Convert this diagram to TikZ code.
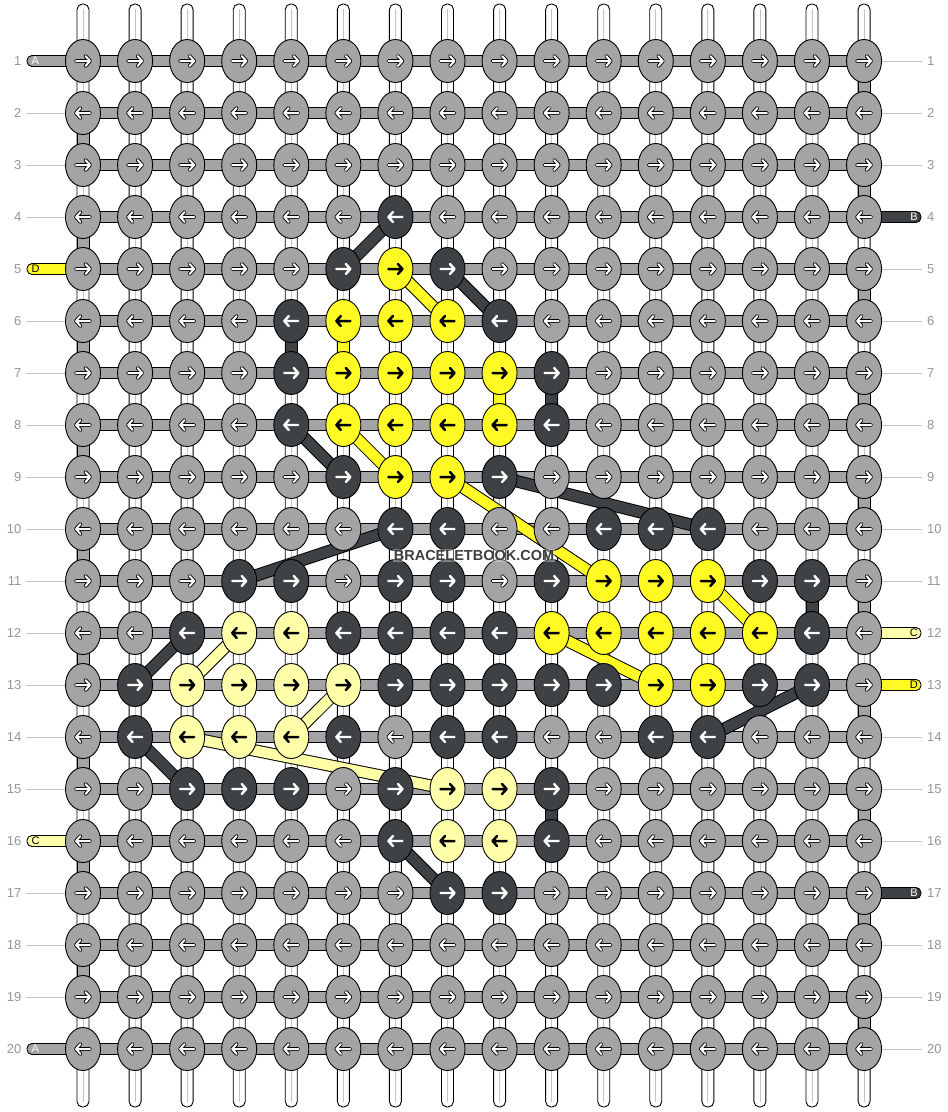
\documentclass[tikz,border=0pt]{standalone}
\usepackage{fontspec}
\setmainfont{Liberation Sans}
\usetikzlibrary{shapes.geometric}
\definecolor{kG}{RGB}{164,163,166}
\definecolor{kD}{RGB}{63,66,69}
\definecolor{kY}{RGB}{255,250,35}
\definecolor{kL}{RGB}{255,255,170}
\definecolor{lblgray}{RGB}{150,150,150}
\definecolor{lineg}{RGB}{195,195,195}
\definecolor{wm}{RGB}{62,62,62}
\makeatletter
\newcommand\setknots[3]{\@for\kx:=#2\do{\expandafter\xdef\csname kc-\kx-#1\endcsname{#3}}}
\makeatother
\setknots{4}{7}{D}
\setknots{5}{6,8}{D}\setknots{5}{7}{Y}
\setknots{6}{5,9}{D}\setknots{6}{6,7,8}{Y}
\setknots{7}{5,10}{D}\setknots{7}{6,7,8,9}{Y}
\setknots{8}{5,10}{D}\setknots{8}{6,7,8,9}{Y}
\setknots{9}{6,9}{D}\setknots{9}{7,8}{Y}
\setknots{10}{7,8,11,12,13}{D}
\setknots{11}{4,5,7,8,10,14,15}{D}\setknots{11}{11,12,13}{Y}
\setknots{12}{3,6,7,8,9,15}{D}\setknots{12}{4,5}{L}\setknots{12}{10,11,12,13,14}{Y}
\setknots{13}{2,7,8,9,10,11,14,15}{D}\setknots{13}{3,4,5,6}{L}\setknots{13}{12,13}{Y}
\setknots{14}{2,6,8,9,12,13}{D}\setknots{14}{3,4,5}{L}
\setknots{15}{3,4,5,7,10}{D}\setknots{15}{8,9}{L}
\setknots{16}{7,10}{D}\setknots{16}{8,9}{L}
\setknots{17}{8,9}{D}
\tikzset{
  knot/.style={shape=ellipse,draw=black,line width=0.9pt,minimum width=35pt,minimum height=43pt,inner sep=0pt},
  strand/.style={draw=black,fill=white,line width=0.9pt,rounded corners=5.5pt},
  hband/.style={draw=black,fill=kG,line width=0.9pt},
  vband/.style={draw=black,line width=0.9pt},
  arrO/.style={draw=black,line width=3.8pt,line cap=round,line join=round},
  arrI/.style={draw=white,line width=2pt,line cap=round,line join=round},
  arrW/.style={draw=white,line width=2.4pt,line cap=round,line join=round},
  arrB/.style={draw=black,line width=2.5pt,line cap=round,line join=round},
  lbl/.style={text=lblgray,inner sep=0pt,font=\fontsize{13}{13}\selectfont},
  stubtxt/.style={inner sep=0pt,font=\fontsize{11}{11}\selectfont},
  rowline/.style={draw=lineg,line width=1pt}
}
\newcommand\vcon[4]{\draw[vband,fill=#4] ([xshift=-6pt]p-#1-#2) rectangle ([xshift=6pt]p-#1-#3);}
\newcommand\diag[5]{\draw[line width=12.5pt,black] (p-#1-#2)--(p-#3-#4);\draw[line width=10.5pt,#5] (p-#1-#2)--(p-#3-#4);}
\newcommand\stubL[4]{%
  \draw[vband,fill=#2,rounded corners=5pt] (27,{61+(#1-1)*52-5.5}) rectangle (80,{61+(#1-1)*52+5.5});
  \node[stubtxt,text=#4,anchor=west] (sl-#1) at (31.5,{61+(#1-1)*52}) {#3};}
\newcommand\stubR[4]{%
  \draw[vband,fill=#2,rounded corners=5pt] (850,{61+(#1-1)*52-5.5}) rectangle (921,{61+(#1-1)*52+5.5});
  \node[stubtxt,text=#4,anchor=east] (sr-#1) at (918,{61+(#1-1)*52}) {#3};}
\begin{document}
\begin{tikzpicture}[x=1pt,y=-1pt]
\useasboundingbox (0,0) rectangle (948,1112);
\fill[white] (0,0) rectangle (948,1112);
% grid coordinates
\foreach \rw in {1,...,20}{\foreach \cl in {1,...,16}{
  \coordinate (p-\cl-\rw) at ({83+(\cl-1)*52.07},{61+(\rw-1)*52});}}
% row labels
\foreach \rw in {1,...,20}{
  \pgfmathsetmacro\yy{61+(\rw-1)*52}
  \node[lbl,anchor=east] (ln-\rw) at (21.5,\yy) {\rw};
  \node[lbl,anchor=west] (rn-\rw) at (927,\yy) {\rw};}
\foreach \rw in {2,3,4,6,7,8,9,10,11,12,13,14,15,17,18,19}{
  \pgfmathsetmacro\yy{61+(\rw-1)*52}
  \draw[rowline] (26,\yy)--(66,\yy);}
\foreach \rw in {1,2,3,5,6,7,8,9,10,11,14,15,16,18,19,20}{
  \pgfmathsetmacro\yy{61+(\rw-1)*52}
  \draw[rowline] (882,\yy)--(922,\yy);}
% vertical strands
\foreach \cl in {1,...,16}{
  \pgfmathsetmacro\xx{83+(\cl-1)*52.07}
  \draw[strand] ({\xx-6},4) rectangle ({\xx+6},1107);
  \draw[lineg,line width=0.8pt] (\xx,9)--(\xx,1102);}
% stubs
\stubL{1}{kG}{A}{white}
\stubL{5}{kY}{D}{black}
\stubL{16}{kL}{C}{black}
\stubL{20}{kG}{A}{white}
\stubR{4}{kD}{B}{white}
\stubR{12}{kL}{C}{black}
\stubR{13}{kY}{D}{black}
\stubR{17}{kD}{B}{white}
% horizontal bands
\foreach \rw in {1,...,20}{
  \pgfmathsetmacro\yy{61+(\rw-1)*52}
  \draw[hband] (83,{\yy-5.5}) rectangle (864,{\yy+5.5});}
% edge verticals
\foreach \rw in {2,4,...,18}{\pgfmathtruncatemacro\rn{\rw+1}\vcon{1}{\rw}{\rn}{kG}}
\foreach \rw in {1,3,...,19}{\pgfmathtruncatemacro\rn{\rw+1}\vcon{16}{\rw}{\rn}{kG}}
% coloured verticals
\vcon{5}{6}{7}{kD}
\vcon{6}{6}{7}{kY}
\vcon{9}{7}{8}{kY}
\vcon{10}{7}{8}{kD}
\vcon{15}{11}{12}{kD}
\vcon{10}{15}{16}{kD}
% diagonals
\diag{7}{4}{6}{5}{kD}
\diag{8}{5}{9}{6}{kD}
\diag{5}{8}{6}{9}{kD}
\diag{9}{9}{13}{10}{kD}
\diag{7}{10}{4}{11}{kD}
\diag{3}{12}{2}{13}{kD}
\diag{2}{14}{3}{15}{kD}
\diag{7}{16}{8}{17}{kD}
\diag{13}{14}{15}{13}{kD}
\diag{7}{5}{8}{6}{kY}
\diag{6}{8}{7}{9}{kY}
\diag{8}{9}{11}{11}{kY}
\diag{13}{11}{14}{12}{kY}
\diag{10}{12}{12}{13}{kY}
\diag{4}{12}{3}{13}{kL}
\diag{6}{13}{5}{14}{kL}
\diag{3}{14}{8}{15}{kL}
% knots
\foreach \rw in {1,...,20}{
  \pgfmathtruncatemacro\dr{ifthenelse(isodd(\rw),1,-1)}
  \foreach \cl in {1,...,16}{
    \ifcsname kc-\cl-\rw\endcsname\edef\kk{\csname kc-\cl-\rw\endcsname}\else\def\kk{G}\fi
    \node[knot,fill=k\kk] (k-\cl-\rw) at (p-\cl-\rw) {};
    \begin{scope}[shift={(p-\cl-\rw)},xscale=\dr]
      \if G\kk
        \draw[arrO] (-7,0)--(7,0) (2.5,-5)--(7,0)--(2.5,5);
        \draw[arrI] (-7,0)--(7,0) (2.5,-5)--(7,0)--(2.5,5);
      \else\if D\kk
        \draw[arrW] (-7,0)--(7,0) (2.5,-5)--(7,0)--(2.5,5);
      \else
        \draw[arrB] (-7,0)--(7,0) (2.5,-5)--(7,0)--(2.5,5);
      \fi\fi
    \end{scope}
  }}
% watermark
\node[font=\bfseries\fontsize{14.5}{16}\selectfont,text=wm,fill=white,fill opacity=0.35,text opacity=1,inner sep=1pt] (wm) at (474,555.5) {BRACELETBOOK.COM};
\end{tikzpicture}
\end{document}
